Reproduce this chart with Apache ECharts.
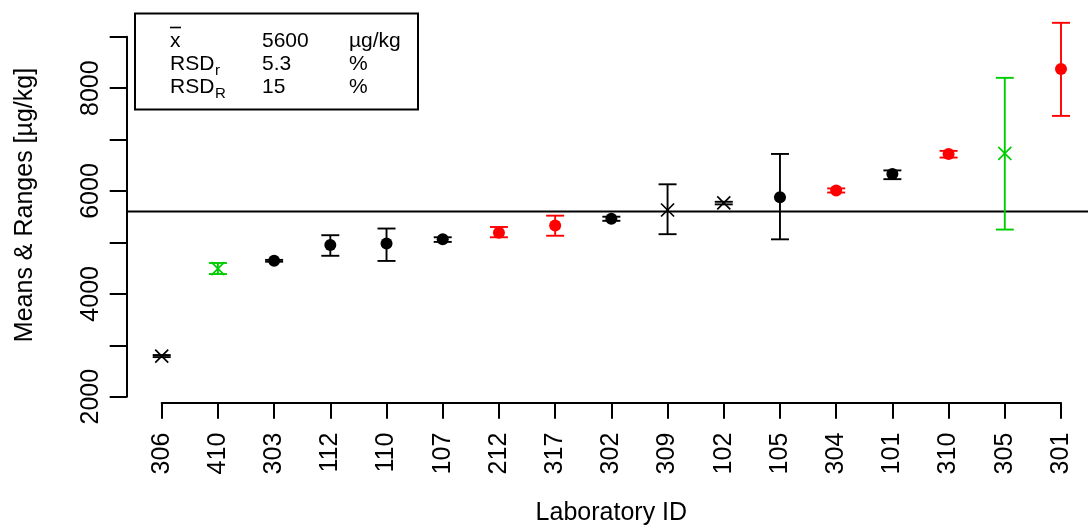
<!DOCTYPE html>
<html><head><meta charset="utf-8">
<script src="https://cdn.jsdelivr.net/npm/echarts@6/dist/echarts.min.js"></script>
<style>html,body{margin:0;padding:0;background:#fff;}#c{width:1088px;height:531px;}</style>
</head><body><div id="c"></div>
<script>
// ---- data ----
const labIds = ['306','410','303','112','110','107','212','317','302','309','102','105','304','101','310','305','301'];
const labMeans = [2790,4490,4645,4950,4980,5060,5190,5330,5460,5630,5770,5880,6010,6330,6720,6730,8370];
const rangeLow = [2770,4385,4625,4740,4640,5010,5100,5130,5420,5160,5740,5060,5970,6230,6650,5250,7460];
const rangeHigh = [2810,4600,4660,5140,5270,5100,5300,5520,5500,6130,5790,6720,6050,6400,6780,8200,9270];
const labGroup = ['k','g','k','k','k','k','r','r','k','k','k','k','r','k','r','g','r'];
const pointKind = ['cross','cross','dot','dot','dot','dot','dot','dot','dot','cross','cross','dot','dot','dot','dot','cross','dot'];
const assignedMean = 5600;
const yLabelTicks = [2000,4000,6000,8000];
const statNames = ['x', 'RSD', 'RSD'];
const statSubs = ['', 'r', 'R'];
const statValues = ['5600', '5.3', '15'];
const statUnits = ['\u00b5g/kg', '%', '%'];

// ---- styling ----
const groupColor = {k:'#000000', r:'#FF0000', g:'#00CD00'};
const FONT = '"Liberation Sans", Arial, Helvetica, sans-serif';
const Y_OFFSET = 35;

const chart = echarts.init(document.getElementById('c'), null, {renderer:'canvas'});

const items = labIds.map((id, i) => [i, labMeans[i], rangeLow[i], rangeHigh[i]]);

function renderLab(params, api) {
  const i = api.value(0);
  const c = groupColor[labGroup[i]];
  const p = api.coord([i, api.value(1)]);
  const lo = api.coord([i, api.value(2)]);
  const hi = api.coord([i, api.value(3)]);
  const cap = 9;
  const st = {stroke: c, lineWidth: 1.9};
  const children = [
    {type:'line', shape:{x1:p[0], y1:lo[1], x2:p[0], y2:hi[1]}, style:st},
    {type:'line', shape:{x1:p[0]-cap, y1:lo[1], x2:p[0]+cap, y2:lo[1]}, style:st},
    {type:'line', shape:{x1:p[0]-cap, y1:hi[1], x2:p[0]+cap, y2:hi[1]}, style:st}
  ];
  if (pointKind[i] === 'dot') {
    children.push({type:'circle', shape:{cx:p[0], cy:p[1], r:6}, style:{fill:c}});
  } else {
    const s = 6.5;
    children.push({type:'line', shape:{x1:p[0]-s, y1:p[1]-s, x2:p[0]+s, y2:p[1]+s}, style:{stroke:c, lineWidth:1.7}});
    children.push({type:'line', shape:{x1:p[0]-s, y1:p[1]+s, x2:p[0]+s, y2:p[1]-s}, style:{stroke:c, lineWidth:1.7}});
  }
  return {type:'group', children};
}

function renderMeanLine(params, api) {
  const y = api.coord([0, api.value(1)])[1];
  return {type:'line', shape:{x1:params.coordSys.x - Y_OFFSET, y1:y, x2:api.getWidth(), y2:y},
          style:{stroke:'#000', lineWidth:2}};
}

const rowY = [41, 64, 87];
const legendEls = [{type:'rect', shape:{x:135, y:13.5, width:283, height:96}, style:{fill:'none', stroke:'#000', lineWidth:2}}];
statNames.forEach((n, r) => {
  legendEls.push({type:'text', x:170, y:rowY[r], style:{text:n, font:'21px '+FONT, fill:'#000', textVerticalAlign:'middle'}});
  if (statSubs[r]) legendEls.push({type:'text', x:215, y:rowY[r]+7, style:{text:statSubs[r], font:'15px '+FONT, fill:'#000', textVerticalAlign:'middle'}});
  legendEls.push({type:'text', x:262, y:rowY[r], style:{text:statValues[r], font:'21px '+FONT, fill:'#000', textVerticalAlign:'middle'}});
  legendEls.push({type:'text', x:349, y:rowY[r], style:{text:statUnits[r], font:'21px '+FONT, fill:'#000', textVerticalAlign:'middle'}});
});
// bar over x
legendEls.push({type:'line', shape:{x1:170, y1:27.5, x2:181, y2:27.5}, style:{stroke:'#000', lineWidth:1.6}});

chart.setOption({
  animation:false,
  backgroundColor:'#fff',
  textStyle:{fontFamily:FONT},
  grid:{left:161.7, right:27, top:36.7, bottom:134.3, containLabel:false},
  xAxis:{
    type:'category', data:labIds, boundaryGap:false, offset:6,
    name:'Laboratory ID', nameLocation:'middle', nameGap:98,
    nameTextStyle:{fontSize:25, color:'#000', fontFamily:FONT},
    axisLine:{lineStyle:{color:'#000', width:2}},
    axisTick:{length:16, lineStyle:{color:'#000', width:2}, interval:0},
    axisLabel:{rotate:90, margin:30, fontSize:25, color:'#000', interval:0, fontFamily:FONT},
    splitLine:{show:false}
  },
  yAxis:{
    type:'value', min:2000, max:9000, interval:1000, offset:Y_OFFSET,
    axisLine:{show:true, lineStyle:{color:'#000', width:2}},
    axisTick:{show:true, length:17, lineStyle:{color:'#000', width:2}},
    axisLabel:{rotate:90, margin:23, fontSize:25, color:'#000', fontFamily:FONT,
      formatter: v => yLabelTicks.includes(v) ? String(v) : ''},
    splitLine:{show:false}
  },
  graphic:[
    {type:'text', x:25, y:205, rotation:Math.PI/2,
     style:{text:'Means & Ranges [\u00b5g/kg]', font:'25px '+FONT, fill:'#000', textAlign:'center', textVerticalAlign:'middle'}},
    {type:'group', children:legendEls}
  ],
  series:[
    {type:'custom', data:[[0, assignedMean]], renderItem:renderMeanLine, clip:false, z:1, silent:true},
    {type:'custom', data:items, renderItem:renderLab, clip:false, z:2, encode:{x:0, y:1}}
  ]
});
</script></body></html>
